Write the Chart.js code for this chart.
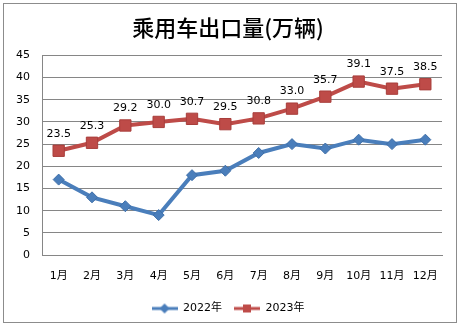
<!DOCTYPE html>
<html>
<head>
<meta charset="utf-8">
<script src="https://cdn.jsdelivr.net/npm/chart.js@4/dist/chart.umd.min.js"></script>
<style>
  html, body { margin: 0; padding: 0; background: #fff; }
  #wrap { width: 461px; height: 329px; position: relative; }
</style>
</head>
<body>
<div id="wrap"><canvas id="myChart" width="461" height="329"></canvas></div>
<script>
const months = ['1月', '2月', '3月', '4月', '5月', '6月', '7月', '8月', '9月', '10月', '11月', '12月'];
const exports2022 = [17, 13, 11, 9, 18, 19, 23, 25, 24, 26, 25, 26];
const exports2023 = [23.5, 25.3, 29.2, 30.0, 30.7, 29.5, 30.8, 33.0, 35.7, 39.1, 37.5, 38.5];
const yTicks = [0, 5, 10, 15, 20, 25, 30, 35, 40, 45];

const blue = '#4A7EBB';
const red = '#BE4B48';
const numFont = '"DejaVu Sans", "Noto Sans CJK SC", sans-serif';

// little legend pictures: line with marker in the middle, like excel
function legendIcon(color, shape) {
  const c = document.createElement('canvas');
  c.width = 26; c.height = 12;
  const g = c.getContext('2d');
  g.strokeStyle = color;
  g.lineWidth = 3;
  g.beginPath(); g.moveTo(0, 6); g.lineTo(26, 6); g.stroke();
  g.fillStyle = color;
  g.beginPath();
  if (shape === 'diamond') {
    g.moveTo(13, 1); g.lineTo(18, 6); g.lineTo(13, 11); g.lineTo(8, 6);
  } else {
    g.rect(9, 2, 8, 8);
  }
  g.closePath(); g.fill();
  return c;
}

const frame = {
  id: 'frame',
  beforeDraw(chart) {
    const c = chart.ctx;
    c.save();
    c.strokeStyle = '#8c8c8c';
    c.lineWidth = 1;
    c.strokeRect(3.5, 3.5, 453, 319);
    c.restore();
  }
};

const valueLabels = {
  id: 'valueLabels',
  afterDatasetsDraw(chart) {
    const c = chart.ctx;
    const meta = chart.getDatasetMeta(1);
    c.save();
    c.font = '11px ' + numFont;
    c.fillStyle = '#000';
    c.textAlign = 'center';
    c.textBaseline = 'middle';
    meta.data.forEach((pt, i) => {
      c.fillText(exports2023[i].toFixed(1), pt.x, pt.y - 17);
    });
    c.restore();
  }
};

const ctx = document.getElementById('myChart').getContext('2d');
const chart = new Chart(ctx, {
  type: 'line',
  data: {
    labels: months,
    datasets: [{
      label: '2022年',
      data: exports2022,
      borderColor: blue,
      backgroundColor: blue,
      borderWidth: 4,
      pointStyle: 'rectRot',
      pointRadius: 5.5,
      pointBorderWidth: 1,
      pointBorderColor: '#3F6FA8',
      fill: false,
      tension: 0
    }, {
      label: '2023年',
      data: exports2023,
      borderColor: red,
      backgroundColor: red,
      borderWidth: 4,
      pointStyle: 'rect',
      pointRadius: 8,
      pointBorderWidth: 1,
      pointBorderColor: '#A83E3B',
      fill: false,
      tension: 0
    }]
  },
  options: {
    responsive: false,
    animation: false,
    layout: { padding: { left: 14, right: 19, top: 0, bottom: 5 } },
    plugins: {
      title: {
        display: true,
        text: '乘用车出口量(万辆)',
        color: '#000',
        font: { size: 22, family: '"Noto Sans CJK SC", sans-serif', weight: '500' },
        padding: { top: 14, bottom: 15 }
      },
      legend: {
        position: 'bottom',
        labels: {
          usePointStyle: true,
          pointStyleWidth: 26,
          color: '#000',
          font: { size: 11, family: numFont },
          padding: 12,
          generateLabels(ch) {
            return ch.data.datasets.map((ds, i) => ({
              text: ds.label,
              pointStyle: legendIcon(ds.borderColor, i === 0 ? 'diamond' : 'square'),
              fillStyle: ds.borderColor,
              strokeStyle: ds.borderColor,
              lineWidth: 0,
              fontColor: '#000',
              hidden: false,
              datasetIndex: i
            }));
          }
        }
      },
      tooltip: { enabled: false }
    },
    scales: {
      x: {
        offset: true,
        grid: { display: false },
        border: { display: true, color: '#868686', width: 1 },
        ticks: { color: '#000', font: { size: 11, family: numFont }, padding: 7, maxRotation: 0 },
        afterFit(s) { s.height = 36; }
      },
      y: {
        min: 0,
        max: 45,
        afterBuildTicks(s) { s.ticks = yTicks.map(v => ({ value: v })); },
        grid: { color: '#868686', drawTicks: false },
        border: { display: true, color: '#868686', width: 1 },
        ticks: { color: '#000', font: { size: 11, family: numFont }, padding: 12 },
        afterFit(s) { s.width = 28; }
      }
    }
  },
  plugins: [frame, valueLabels]
});
</script>
</body>
</html>
